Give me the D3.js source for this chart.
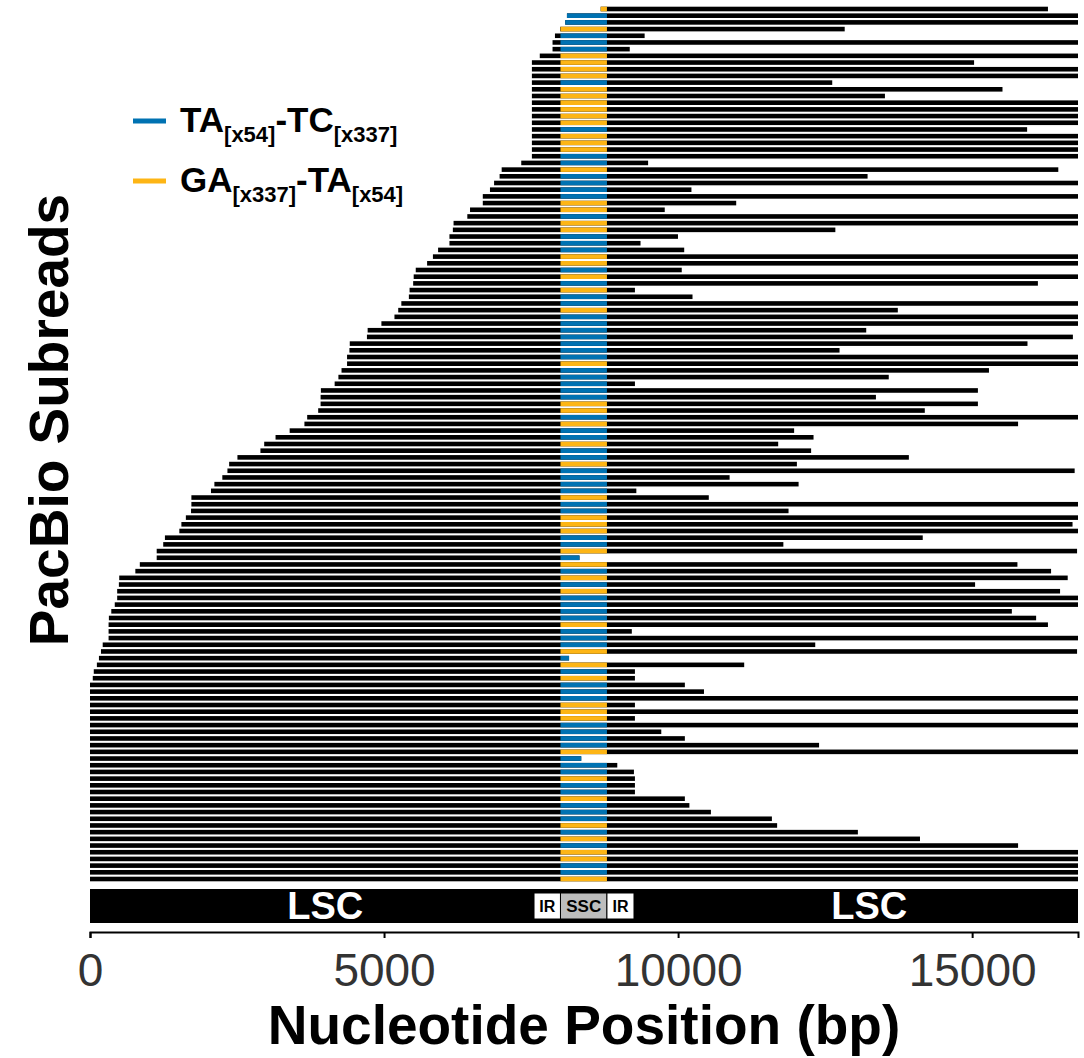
<!DOCTYPE html>
<html>
<head>
<meta charset="utf-8">
<script src="https://d3js.org/d3.v7.min.js"></script>
<style>
  body { margin: 0; background: #fff; }
  #chart { width: 1084px; height: 1058px; }
</style>
</head>
<body>
<div id="chart"></div>
<script>
// read start / end (bp) and repeat type, one entry per subread, top to bottom
const readStart = [
  8683, 8110, 8081, 7995, 7906, 7865, 7865, 7648, 7514, 7514,
  7514, 7514, 7514, 7514, 7514, 7514, 7514, 7514, 7514, 7514,
  7514, 7514, 7514, 7333, 7000, 6965, 6871, 6801, 6679, 6679,
  6462, 6416, 6182, 6170, 6112, 6112, 5919, 5831, 5732, 5539,
  5504, 5495, 5434, 5422, 5294, 5241, 5177, 4955, 4721, 4709,
  4417, 4411, 4371, 4371, 4277, 4224, 4160, 3926, 3921, 3921,
  3880, 3693, 3646, 3395, 3155, 2962, 2898, 2507, 2366, 2337,
  2250, 2115, 2057, 1724, 1724, 1718, 1630, 1554, 1519, 1274,
  1245, 1134, 1134, 847, 771, 497, 491, 462, 462, 421,
  362, 321, 316, 316, 316, 216, 187, 152, 117, 64,
  47, 0, 0, 0, 0, 0, 0, 0, 0, 0,
  0, 0, 0, 0, 0, 0, 0, 0, 0, 0,
  0, 0, 0, 0, 0, 0, 0, 0, 0, 0,
  0
];
const readEnd = [
  16289, 16800, 16800, 12833, 9431, 16800, 9178, 16800, 15033, 16800,
  16800, 12621, 15516, 13517, 16800, 16800, 16800, 16800, 15935, 16800,
  16800, 16800, 16800, 9490, 16465, 13222, 16800, 10227, 16800, 10988,
  9773, 16800, 16800, 12674, 9998, 9361, 10104, 16800, 16800, 10062,
  16800, 16118, 9266, 10245, 16800, 13736, 16800, 16800, 13199, 16713,
  15941, 12745, 16800, 16800, 15286, 13582, 9266, 15098, 13364, 15098,
  14195, 16800, 15781, 11973, 12303, 11702, 12262, 13924, 12020, 16743,
  10876, 12049, 9290, 10522, 16800, 11878, 16800, 16707, 16800, 14160,
  11790, 16784, 8323, 15770, 16342, 16625, 15050, 16495, 16800, 16800,
  15675, 16088, 16289, 9213, 16800, 12332, 16784, 8146, 11124, 9266,
  9266, 10115, 10440, 16800, 9266, 16800, 9266, 16800, 9714, 10115,
  12397, 16800, 8353, 8966, 9249, 9266, 9266, 9266, 10115, 10192,
  10558, 11595, 11684, 13057, 14113, 15781, 16800, 16800, 16800, 16800,
  16800
];
const readType = [
  "GA", "TA", "TA", "GA", "TA", "TA", "TA", "GA", "GA", "GA",
  "GA", "TA", "GA", "GA", "GA", "GA", "GA", "GA", "TA", "GA",
  "GA", "GA", "TA", "TA", "GA", "TA", "TA", "TA", "TA", "GA",
  "GA", "TA", "GA", "GA", "TA", "TA", "TA", "GA", "GA", "TA",
  "GA", "TA", "GA", "TA", "TA", "GA", "TA", "TA", "TA", "TA",
  "TA", "TA", "TA", "GA", "TA", "TA", "TA", "TA", "TA", "GA",
  "GA", "TA", "GA", "TA", "TA", "GA", "TA", "TA", "GA", "TA",
  "TA", "TA", "TA", "GA", "TA", "TA", "GA", "GA", "GA", "TA",
  "TA", "GA", "TA", "GA", "TA", "GA", "TA", "GA", "TA", "TA",
  "TA", "TA", "GA", "TA", "TA", "TA", "GA", "TA", "GA", "TA",
  "GA", "TA", "TA", "TA", "GA", "GA", "GA", "TA", "TA", "TA",
  "TA", "GA", "TA", "TA", "TA", "GA", "TA", "TA", "GA", "TA",
  "TA", "TA", "GA", "TA", "GA", "TA", "GA", "GA", "TA", "TA",
  "GA"
];

// genome regions for the track under the reads
const regionName = ["LSC", "IR", "SSC", "IR", "LSC"];
const regionStart = [0, 7550, 8000, 8790, 9250];
const regionEnd = [7550, 8000, 8790, 9250, 16800];
const lscLabelPos = [4000, 13250];

const xTicks = [0, 5000, 10000, 15000];
const genomeLength = 16800;

const legendLabels = [
  { type: "TA", parts: [["TA", false], ["[x54]", true], ["-TC", false], ["[x337]", true]] },
  { type: "GA", parts: [["GA", false], ["[x337]", true], ["-TA", false], ["[x54]", true]] }
];

function drawChart() {
    d3.select("#chart").selectAll("*").remove();

    let width = 1084, height = 1058;
    let margin = { top: 9, right: 6, bottom: 179, left: 90 };
    let font = "Arial, 'Liberation Sans', Helvetica, sans-serif";

    let colors = { TA: "#0072B2", GA: "#FDB515" };

    let svg = d3.select("#chart")
        .append("svg")
        .attr("width", width)
        .attr("height", height)
        .style("background", "#fff");

    let x = d3.scaleLinear()
        .domain([0, genomeLength])
        .range([margin.left, width - margin.right]);

    let rows = d3.range(readStart.length);
    let y = d3.scalePoint()
        .domain(rows)
        .range([margin.top, height - margin.bottom]);

    let lineH = 4.6;
    let ssc0 = regionStart[2], ssc1 = regionEnd[2];

    let reads = rows.map(i => ({
        i: i,
        start: readStart[i],
        end: readEnd[i],
        type: readType[i]
    }));

    // black subread lines
    svg.append("g").selectAll("rect")
        .data(reads)
        .enter().append("rect")
        .attr("x", d => x(d.start))
        .attr("y", d => y(d.i) - lineH / 2)
        .attr("width", d => x(d.end) - x(d.start))
        .attr("height", lineH)
        .attr("fill", "#000");

    // coloured part over the SSC
    svg.append("g").selectAll("rect")
        .data(reads)
        .enter().append("rect")
        .attr("x", d => x(Math.max(d.start, ssc0)))
        .attr("y", d => y(d.i) - lineH / 2)
        .attr("width", d => x(Math.min(d.end, ssc1)) - x(Math.max(d.start, ssc0)))
        .attr("height", lineH)
        .attr("fill", d => colors[d.type]);

    // genome track
    let trackTop = 889, trackH = 34;
    let regions = regionName.map((n, i) => ({ name: n, start: regionStart[i], end: regionEnd[i] }));

    svg.append("rect")
        .attr("x", x(0))
        .attr("y", trackTop)
        .attr("width", x(genomeLength) - x(0))
        .attr("height", trackH)
        .attr("fill", "#000");

    let small = regions.filter(d => d.name !== "LSC");
    svg.append("g").selectAll("rect")
        .data(small)
        .enter().append("rect")
        .attr("x", d => x(d.start))
        .attr("y", trackTop + 4)
        .attr("width", d => x(d.end) - x(d.start))
        .attr("height", trackH - 8)
        .attr("fill", d => d.name === "SSC" ? "#bdbdbd" : "#fff")
        .attr("stroke", "#000")
        .attr("stroke-width", 1);

    svg.append("g").selectAll("text")
        .data(small)
        .enter().append("text")
        .attr("x", d => (x(d.start) + x(d.end)) / 2)
        .attr("y", trackTop + trackH / 2 + 6)
        .attr("text-anchor", "middle")
        .style("font-family", font)
        .style("font-weight", "bold")
        .style("font-size", d => d.name === "SSC" ? "17px" : "16px")
        .style("fill", "#000")
        .text(d => d.name);

    svg.append("g").selectAll("text")
        .data(lscLabelPos)
        .enter().append("text")
        .attr("x", d => x(d))
        .attr("y", trackTop + trackH / 2 + 13)
        .attr("text-anchor", "middle")
        .style("font-family", font)
        .style("font-weight", "bold")
        .style("font-size", "38px")
        .style("fill", "#fff")
        .text("LSC");

    // x axis
    let axis = svg.append("g")
        .attr("transform", `translate(0,${trackTop + trackH + 9})`)
        .call(d3.axisBottom(x).tickValues(xTicks).tickFormat(d3.format("d")).tickSizeOuter(0).tickSize(6));

    axis.select(".domain").attr("stroke", "#000").attr("stroke-width", 2);
    axis.selectAll(".tick line").attr("stroke", "#000").attr("stroke-width", 2);
    axis.selectAll(".tick text")
        .attr("y", 9)
        .attr("dy", "45px")
        .style("font-family", font)
        .style("font-size", "46px")
        .style("fill", "#333");

    // axis titles
    svg.append("text")
        .attr("x", (x(0) + x(genomeLength)) / 2)
        .attr("y", 1044)
        .attr("text-anchor", "middle")
        .style("font-family", font)
        .style("font-weight", "bold")
        .style("font-size", "55px")
        .text("Nucleotide Position (bp)");

    svg.append("text")
        .attr("transform", `translate(68,420) rotate(-90)`)
        .attr("text-anchor", "middle")
        .style("font-family", font)
        .style("font-weight", "bold")
        .style("font-size", "55px")
        .text("PacBio Subreads");

    // legend
    let legend = svg.append("g").attr("transform", "translate(133,121)");
    legendLabels.forEach((l, i) => {
        let g = legend.append("g").attr("transform", `translate(0,${i * 60})`);
        g.append("line")
            .attr("x1", 0).attr("x2", 33)
            .attr("y1", 0).attr("y2", 0)
            .attr("stroke", colors[l.type])
            .attr("stroke-width", 5);
        let t = g.append("text")
            .attr("x", 47)
            .attr("y", 11)
            .style("font-family", font)
            .style("font-weight", "bold")
            .style("font-size", "35px");
        l.parts.forEach(([txt, sub]) => {
            t.append("tspan")
                .attr("dy", sub ? 10 : -10)
                .style("font-size", sub ? "22px" : "35px")
                .text(txt);
        });
        t.select("tspan").attr("dy", 0);
    });
}

drawChart();
</script>
</body>
</html>
